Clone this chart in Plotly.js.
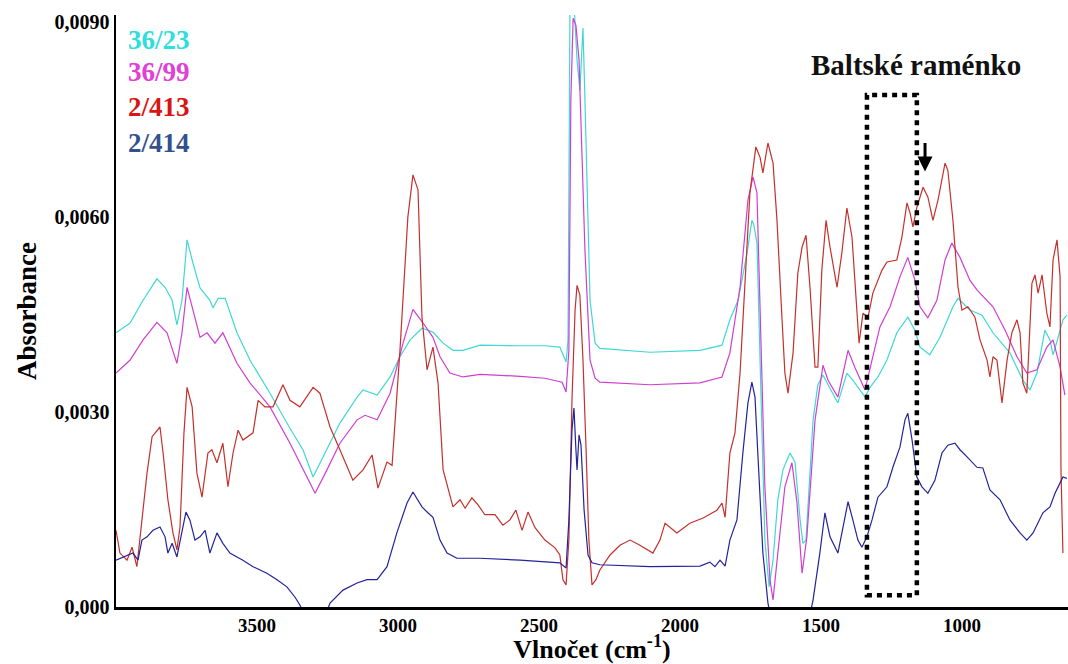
<!DOCTYPE html>
<html>
<head>
<meta charset="utf-8">
<script src="https://cdn.plot.ly/plotly-3.0.1.min.js"></script>
<style>html,body{margin:0;padding:0;background:#fff;}#chart{width:1068px;height:664px;}</style>
</head>
<body>
<div id="chart"></div>
<script>
// Series names
const seriesNames = ["36/23", "36/99", "2/413", "2/414"];

// 36/23 (cyan)
const wn_3623 = [4000,3950,3904,3855,3826,3801,3784,3766,3748,3727,3702,3667,3656,3638,3613,3571,3525,3454,3383,3337,3301,3266,3206,3145,3124,3074,3028,2993,2957,2915,2876,2840,2805,2770,2709,2567,2479,2426,2404,2397,2390,2376,2365,2355,2344,2337,2319,2301,2284,2106,1929,1851,1823,1794,1762,1745,1738,1727,1716,1709,1699,1684,1670,1653,1635,1610,1592,1574,1564,1553,1528,1511,1493,1475,1440,1408,1387,1344,1326,1298,1266,1231,1192,1167,1149,1114,1078,1032,1014,972,929,890,830,784,759,734,706,688,677,659,642,628];
const abs_3623 = [0.00422,0.00437,0.00472,0.00505,0.00492,0.00472,0.00434,0.00472,0.00565,0.00529,0.00491,0.00472,0.00460,0.00475,0.00475,0.00422,0.00380,0.00329,0.00275,0.00242,0.00200,0.00231,0.00283,0.00323,0.00334,0.00326,0.00354,0.00385,0.00411,0.00429,0.00423,0.00406,0.00395,0.00395,0.00403,0.00402,0.00402,0.00400,0.00377,0.00411,0.00930,0.00930,0.00842,0.00795,0.00891,0.00780,0.00472,0.00406,0.00398,0.00392,0.00395,0.00403,0.00442,0.00472,0.00545,0.00595,0.00588,0.00560,0.00391,0.00288,0.00103,0.00031,0.00072,0.00165,0.00211,0.00237,0.00223,0.00134,0.00098,0.00103,0.00288,0.00342,0.00357,0.00342,0.00314,0.00360,0.00349,0.00323,0.00338,0.00354,0.00380,0.00422,0.00446,0.00426,0.00400,0.00388,0.00415,0.00462,0.00475,0.00457,0.00449,0.00422,0.00391,0.00349,0.00334,0.00360,0.00426,0.00411,0.00388,0.00415,0.00442,0.00449];

// 36/99 (magenta)
const wn_3699 = [4000,3950,3904,3855,3819,3784,3766,3748,3727,3702,3677,3649,3621,3571,3525,3454,3383,3337,3294,3252,3206,3145,3117,3074,3028,2982,2947,2911,2876,2851,2816,2770,2709,2567,2479,2418,2404,2394,2387,2379,2369,2358,2348,2337,2319,2301,2284,2106,1929,1851,1823,1787,1759,1741,1727,1716,1699,1681,1670,1653,1628,1603,1585,1567,1550,1521,1493,1475,1440,1404,1380,1344,1319,1291,1255,1220,1192,1167,1149,1121,1089,1060,1036,1007,972,947,890,847,805,770,734,699,677,652,635];
const abs_3699 = [0.00360,0.00380,0.00411,0.00438,0.00422,0.00375,0.00422,0.00492,0.00457,0.00415,0.00422,0.00406,0.00422,0.00375,0.00345,0.00308,0.00252,0.00211,0.00175,0.00211,0.00252,0.00288,0.00295,0.00288,0.00329,0.00406,0.00458,0.00437,0.00415,0.00385,0.00360,0.00354,0.00358,0.00355,0.00352,0.00346,0.00331,0.00395,0.00780,0.00906,0.00895,0.00842,0.00718,0.00549,0.00380,0.00352,0.00346,0.00342,0.00345,0.00354,0.00391,0.00492,0.00626,0.00662,0.00637,0.00442,0.00185,0.00042,0.00011,0.00083,0.00185,0.00222,0.00160,0.00052,0.00108,0.00288,0.00372,0.00349,0.00323,0.00395,0.00369,0.00334,0.00380,0.00431,0.00462,0.00508,0.00538,0.00503,0.00462,0.00445,0.00472,0.00534,0.00560,0.00538,0.00503,0.00488,0.00462,0.00426,0.00385,0.00360,0.00365,0.00400,0.00411,0.00369,0.00326];

// 2/413 (red)
const wn_2413 = [4000,3986,3961,3943,3926,3908,3890,3872,3844,3833,3816,3798,3784,3773,3759,3748,3730,3713,3695,3674,3660,3642,3621,3603,3585,3567,3550,3514,3496,3472,3443,3408,3383,3348,3301,3277,3241,3206,3160,3124,3092,3071,3039,3021,2993,2965,2947,2929,2915,2897,2876,2858,2840,2805,2780,2762,2738,2716,2692,2656,2628,2603,2582,2560,2539,2514,2479,2443,2426,2415,2404,2394,2383,2372,2365,2355,2344,2333,2323,2312,2298,2284,2248,2213,2177,2142,2113,2096,2071,2053,2011,1965,1918,1869,1851,1840,1823,1805,1787,1770,1752,1731,1716,1706,1688,1670,1656,1638,1628,1617,1599,1582,1567,1553,1539,1521,1511,1497,1482,1468,1443,1426,1408,1390,1372,1365,1351,1333,1316,1284,1266,1231,1213,1195,1184,1174,1160,1138,1121,1103,1085,1060,1050,1032,1014,1000,979,954,936,911,901,890,876,858,840,823,805,794,784,770,752,741,730,716,699,688,677,663,652,649,642];
const abs_2413 = [0.00118,0.00083,0.00072,0.00092,0.00062,0.00134,0.00206,0.00262,0.00277,0.00237,0.00165,0.00114,0.00088,0.00123,0.00268,0.00338,0.00308,0.00206,0.00169,0.00237,0.00242,0.00222,0.00252,0.00185,0.00237,0.00272,0.00257,0.00268,0.00318,0.00308,0.00308,0.00342,0.00318,0.00308,0.00338,0.00329,0.00277,0.00242,0.00195,0.00211,0.00234,0.00183,0.00223,0.00218,0.00395,0.00600,0.00665,0.00642,0.00446,0.00365,0.00400,0.00345,0.00211,0.00154,0.00165,0.00152,0.00168,0.00157,0.00142,0.00142,0.00126,0.00134,0.00149,0.00118,0.00146,0.00122,0.00103,0.00091,0.00080,0.00042,0.00034,0.00103,0.00318,0.00457,0.00495,0.00480,0.00380,0.00242,0.00103,0.00034,0.00042,0.00057,0.00080,0.00095,0.00103,0.00095,0.00088,0.00083,0.00103,0.00129,0.00114,0.00129,0.00137,0.00149,0.00160,0.00138,0.00237,0.00268,0.00360,0.00492,0.00637,0.00708,0.00692,0.00668,0.00714,0.00683,0.00595,0.00442,0.00360,0.00329,0.00391,0.00514,0.00554,0.00572,0.00492,0.00369,0.00369,0.00518,0.00595,0.00554,0.00492,0.00545,0.00614,0.00569,0.00462,0.00406,0.00452,0.00446,0.00483,0.00518,0.00531,0.00534,0.00569,0.00622,0.00606,0.00585,0.00615,0.00646,0.00631,0.00595,0.00626,0.00683,0.00672,0.00595,0.00492,0.00457,0.00462,0.00446,0.00411,0.00380,0.00354,0.00385,0.00380,0.00314,0.00380,0.00422,0.00442,0.00422,0.00345,0.00329,0.00498,0.00511,0.00483,0.00511,0.00452,0.00431,0.00534,0.00565,0.00508,0.00215,0.00083];

// 2/414 (blue)
const wn_2414 = [4000,3975,3940,3922,3908,3890,3869,3844,3826,3816,3801,3784,3766,3752,3738,3720,3702,3684,3667,3642,3621,3596,3571,3550,3514,3465,3429,3394,3365,3348,3312,3277,3241,3195,3145,3110,3074,3039,3004,2968,2947,2915,2894,2876,2851,2826,2791,2709,2567,2479,2426,2404,2394,2383,2376,2369,2365,2358,2351,2340,2326,2312,2284,2106,1929,1894,1876,1858,1840,1823,1798,1777,1759,1745,1734,1724,1706,1688,1663,1610,1557,1528,1504,1486,1468,1440,1422,1404,1387,1369,1355,1337,1319,1298,1266,1245,1220,1202,1192,1177,1160,1142,1121,1096,1071,1050,1025,1007,982,947,926,901,865,830,794,770,748,713,688,670,652,642,628];
const abs_2414 = [0.00072,0.00077,0.00083,0.00072,0.00103,0.00108,0.00118,0.00123,0.00108,0.00083,0.00098,0.00077,0.00114,0.00146,0.00134,0.00103,0.00108,0.00118,0.00083,0.00114,0.00098,0.00083,0.00077,0.00072,0.00062,0.00052,0.00042,0.00031,0.00015,0.00003,-0.00028,-0.00035,0.00006,0.00026,0.00037,0.00042,0.00042,0.00062,0.00114,0.00160,0.00177,0.00154,0.00145,0.00138,0.00103,0.00083,0.00075,0.00075,0.00072,0.00069,0.00068,0.00060,0.00134,0.00272,0.00306,0.00242,0.00211,0.00265,0.00249,0.00149,0.00080,0.00068,0.00065,0.00062,0.00063,0.00069,0.00062,0.00072,0.00063,0.00103,0.00134,0.00237,0.00314,0.00346,0.00323,0.00237,0.00083,0.00006,-0.00050,-0.00066,-0.00050,0.00011,0.00083,0.00145,0.00108,0.00083,0.00123,0.00162,0.00134,0.00103,0.00092,0.00108,0.00134,0.00169,0.00185,0.00215,0.00246,0.00288,0.00298,0.00257,0.00200,0.00185,0.00175,0.00195,0.00237,0.00249,0.00252,0.00242,0.00231,0.00215,0.00214,0.00180,0.00165,0.00134,0.00114,0.00103,0.00114,0.00145,0.00154,0.00175,0.00191,0.00200,0.00198];

// Axis ticks
const yTickVals = [0, 0.003, 0.006, 0.009];
const yTickText = ["0,000", "0,0030", "0,0060", "0,0090"];
const xTickVals = [3500, 3000, 2500, 2000, 1500, 1000];

const lineColors = ["#3fd8d4", "#cf3fcf", "#c4302c", "#23239a"];
const labelColors = ["#2fdede", "#e040d4", "#d81414", "#33508e"];

const serif = "Liberation Serif, Times New Roman, serif";

const xs = [wn_3623, wn_3699, wn_2413, wn_2414];
const ys = [abs_3623, abs_3699, abs_2413, abs_2414];

const traces = seriesNames.map((n, i) => ({
  type: "scatter", mode: "lines", name: n,
  x: xs[i], y: ys[i],
  line: {color: lineColors[i], width: 1.2},
  hoverinfo: "x+y+name"
}));

const legendY = [0.958, 0.904, 0.845, 0.784];
const annotations = seriesNames.map((n, i) => ({
  xref: "paper", yref: "paper", x: 0.011, y: legendY[i],
  xanchor: "left", yanchor: "middle", showarrow: false,
  text: n, font: {family: serif, size: 27, color: labelColors[i], weight: "bold"}
}));
annotations.push({
  xref: "paper", yref: "paper", x: 0.840, y: 0.916,
  xanchor: "center", yanchor: "middle", showarrow: false,
  text: "Baltské raménko", font: {family: serif, size: 29, color: "#111", weight: "bold"}
});
annotations.push({
  xref: "x", yref: "y", x: 1131, y: 0.00670,
  showarrow: true, text: "", arrowhead: 2, arrowsize: 1, arrowwidth: 3,
  arrowcolor: "#000", ax: 0, ay: -30
});

const layout = {
  width: 1068, height: 664,
  margin: {l: 116, r: 0, t: 15, b: 57},
  paper_bgcolor: "#fff", plot_bgcolor: "#fff",
  showlegend: false,
  font: {family: serif, color: "#000"},
  xaxis: {
    range: [4000, 624], tickvals: xTickVals, ticks: "",
    showgrid: false, zeroline: false, showline: true, linecolor: "#000", linewidth: 2.5,
    tickfont: {family: serif, size: 19, color: "#000", weight: "bold"},
    title: {text: "Vlnočet (cm<sup>-1</sup>)", font: {family: serif, size: 26, color: "#000", weight: "bold"}, standoff: 11}
  },
  yaxis: {
    range: [0, 0.00911], tickvals: yTickVals, ticktext: yTickText, ticks: "",
    showgrid: false, zeroline: false, showline: true, linecolor: "#000", linewidth: 2.5,
    tickfont: {family: serif, size: 20, color: "#000", weight: "bold"},
    title: {text: "Absorbance", font: {family: serif, size: 27, color: "#000", weight: "bold"}, standoff: 10}
  },
  shapes: [{
    type: "rect", xref: "x", yref: "y", x0: 1337, x1: 1160, y0: 0.00018, y1: 0.00788,
    line: {color: "#000", width: 4.5, dash: "5px,5px"}, fillcolor: "rgba(0,0,0,0)"
  }],
  annotations: annotations
};

Plotly.newPlot("chart", traces, layout, {displayModeBar: false, staticPlot: true});
</script>
</body>
</html>
